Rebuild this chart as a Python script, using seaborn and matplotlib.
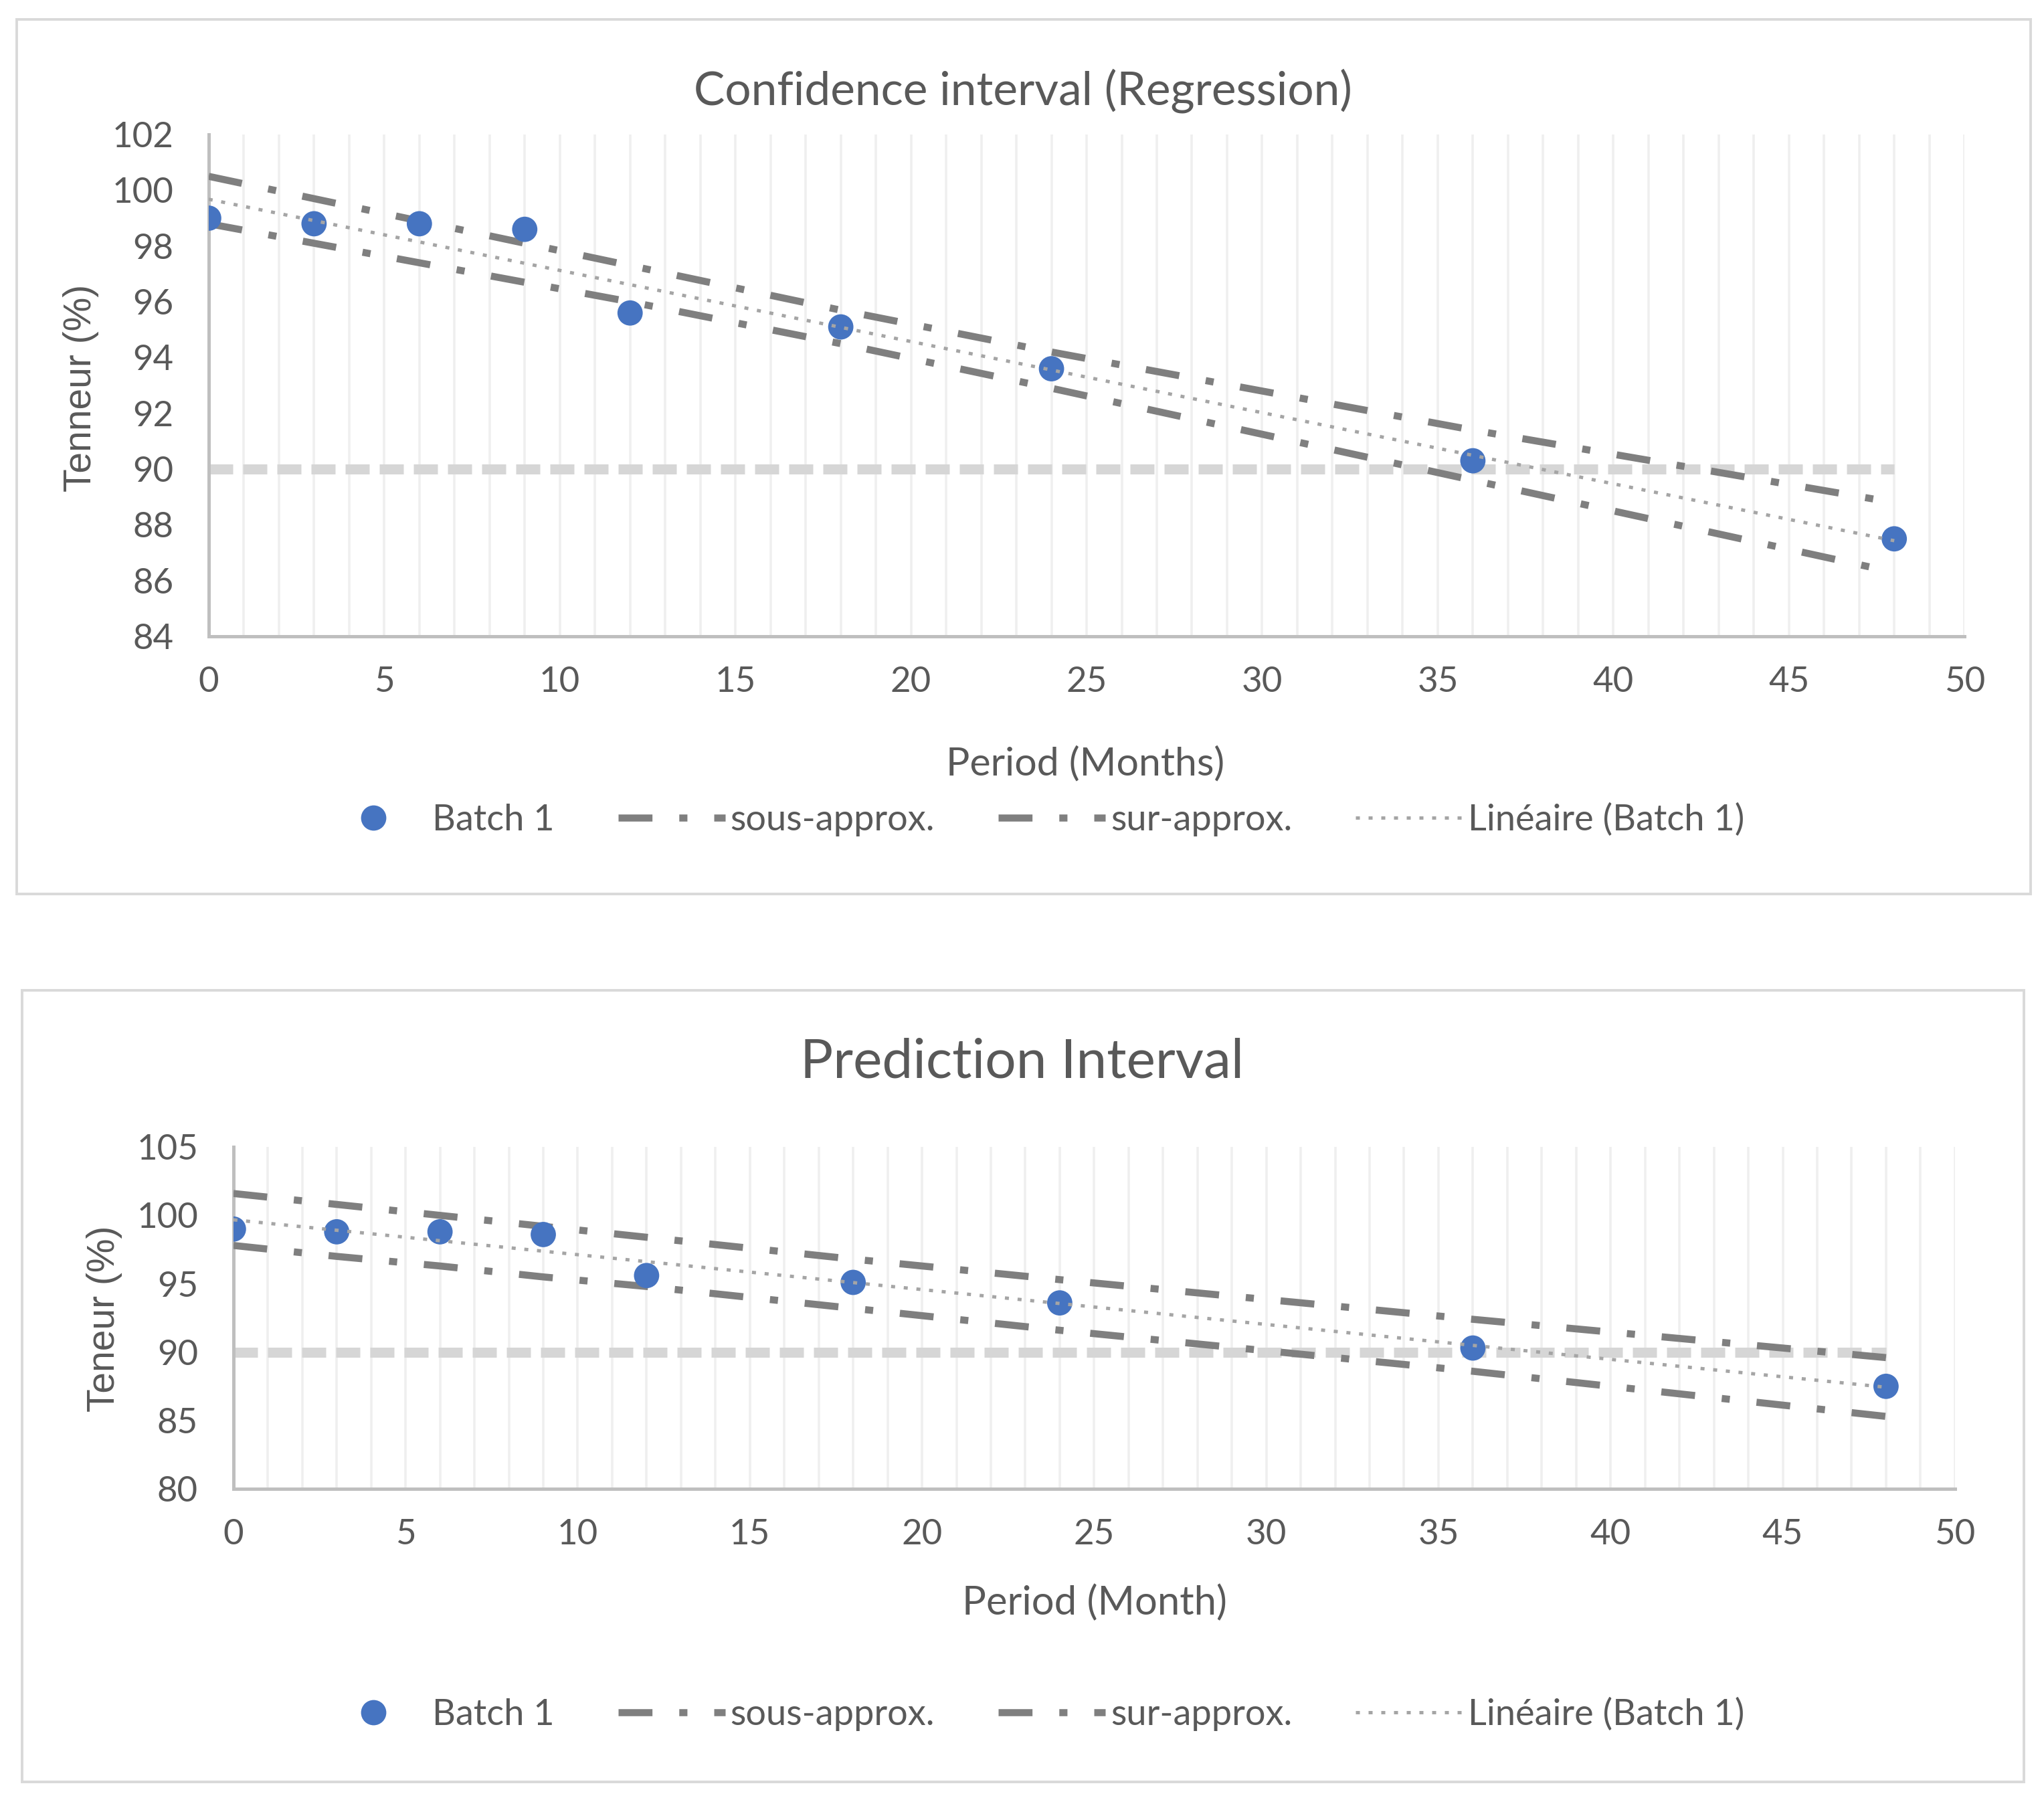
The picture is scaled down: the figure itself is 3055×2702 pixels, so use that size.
import numpy as np
import pandas as pd
import seaborn as sns
import matplotlib.pyplot as plt
from matplotlib.lines import Line2D
from matplotlib.patches import Rectangle

# data
months = [0, 3, 6, 9, 12, 18, 24, 36, 48]
batch1 = [99.0, 98.8, 98.8, 98.6, 95.6, 95.1, 93.6, 90.3, 87.5]

# confidence interval of the regression
ci_upper = [100.5, 99.7, 98.9, 98.1, 97.3, 95.7, 94.2, 91.4, 88.8]
ci_lower = [98.8, 98.1, 97.4, 96.7, 96.0, 94.5, 92.9, 89.6, 86.3]

# prediction interval
pi_upper = [101.6, 100.8, 100.0, 99.2, 98.4, 96.8, 95.3, 92.4, 89.6]
pi_lower = [97.8, 97.0, 96.3, 95.5, 94.8, 93.2, 91.6, 88.6, 85.3]

limit = 90

sns.set_theme(style='white')
plt.rcParams['font.family'] = ['Liberation Sans Narrow', 'Lato', 'DejaVu Sans']

TEXT = '#595959'
BLUE = '#4674C1'
DARK = '#7F7F7F'
AXIS = '#BFBFBF'

df = pd.DataFrame({'month': months, 'batch1': batch1,
                   'ci_upper': ci_upper, 'ci_lower': ci_lower,
                   'pi_upper': pi_upper, 'pi_lower': pi_lower})

dashdot = (0, (4.8, 3.8, 1.15, 3.8))
limit_dash = (0, (2.4, 1.0))
dotted = (0, (1.2, 2.6))


def draw_panel(ax, upper_col, lower_col, ylim, ystep):
    ax.hlines(limit, months[0], months[-1], color='#D6D6D6', lw=5.4,
              linestyles=limit_dash, zorder=2)
    sns.lineplot(data=df, x='month', y=upper_col, ax=ax, color=DARK, lw=3.8,
                 linestyle=dashdot, zorder=3, estimator=None)
    sns.lineplot(data=df, x='month', y=lower_col, ax=ax, color=DARK, lw=3.8,
                 linestyle=dashdot, zorder=3, estimator=None)
    sns.regplot(data=df, x='month', y='batch1', ax=ax, scatter=False, ci=None,
                line_kws=dict(color='#A5A5A5', lw=1.8, linestyle=dotted, zorder=5))
    sns.scatterplot(data=df, x='month', y='batch1', ax=ax, color=BLUE, s=185,
                    edgecolor='none', zorder=4)

    ax.set_xlim(0, 50)
    ax.set_ylim(*ylim)
    ax.set_xticks(np.arange(0, 51, 5))
    ax.set_xticks(np.arange(0, 51, 1), minor=True)
    ax.set_yticks(np.arange(ylim[0], ylim[1] + 0.1, ystep))
    ax.grid(which='both', axis='x', color='#EFEFEF', lw=1.3, zorder=0)
    ax.grid(False, axis='y')
    ax.set_axisbelow(True)
    for side in ['top', 'right']:
        ax.spines[side].set_visible(False)
    for side in ['left', 'bottom']:
        ax.spines[side].set_color(AXIS)
        ax.spines[side].set_linewidth(1.8)
    ax.tick_params(axis='x', which='major', direction='in', length=5.4,
                   width=1.3, color=AXIS, labelsize=19, labelcolor=TEXT, pad=16)
    ax.tick_params(axis='x', which='minor', length=0)
    ax.tick_params(axis='y', length=0, labelsize=19, labelcolor=TEXT, pad=19)
    ax.set_xlabel('')
    ax.set_ylabel('')


fig = plt.figure(figsize=(15.275, 13.51), dpi=200)

# panel frames
fig.patches.append(Rectangle((0.0082, 0.5056), 0.9853, 0.4837, transform=fig.transFigure,
                             fill=False, edgecolor='#D9D9D9', lw=1.4))
fig.patches.append(Rectangle((0.0108, 0.0144), 0.9794, 0.4378, transform=fig.transFigure,
                             fill=False, edgecolor='#D9D9D9', lw=1.4))

ax1 = fig.add_axes([0.1021, 0.6480, 0.8590, 0.2776])
ax2 = fig.add_axes([0.1142, 0.1765, 0.8422, 0.1891])

draw_panel(ax1, 'ci_upper', 'ci_lower', (84, 102), 2)
draw_panel(ax2, 'pi_upper', 'pi_lower', (80, 105), 5)

fig.text(0.5005, 0.9497, 'Confidence interval (Regression)', ha='center', va='center',
         fontsize=25, color=TEXT)
fig.text(0.5, 0.4123, 'Prediction Interval', ha='center', va='center',
         fontsize=29.5, color=TEXT)
fig.text(0.531, 0.5774, 'Period (Months)', ha='center', va='center', fontsize=21.3, color=TEXT)
fig.text(0.5355, 0.1133, 'Period (Month)', ha='center', va='center', fontsize=21.5, color=TEXT)
fig.text(0.0396, 0.7853, 'Tenneur (%)', rotation=90, ha='center', va='center',
         fontsize=20.5, color=TEXT, family=['Liberation Sans', 'DejaVu Sans'])
fig.text(0.0511, 0.2705, 'Teneur (%)', rotation=90, ha='center', va='center',
         fontsize=20.5, color=TEXT, family=['Liberation Sans', 'DejaVu Sans'])

handles = [
    Line2D([], [], ls='none', marker='o', markersize=13.6, color=BLUE, markeredgewidth=0),
    Line2D([], [], color=DARK, lw=3.8, ls=dashdot),
    Line2D([], [], color=DARK, lw=3.8, ls=dashdot),
    Line2D([], [], color='#A5A5A5', lw=1.8, ls=dotted),
]
labels = ['Batch 1', 'sous-approx.', 'sur-approx.', 'Linéaire (Batch 1)']
for ypos in [0.5466, 0.0518]:
    fig.legend(handles, labels, loc='center', bbox_to_anchor=(0.505, ypos), ncol=4,
               frameon=False, fontsize=19.5, labelcolor=TEXT, handlelength=2.95,
               handletextpad=0.15, columnspacing=1.75)

fig.savefig('out.png', dpi=200)
